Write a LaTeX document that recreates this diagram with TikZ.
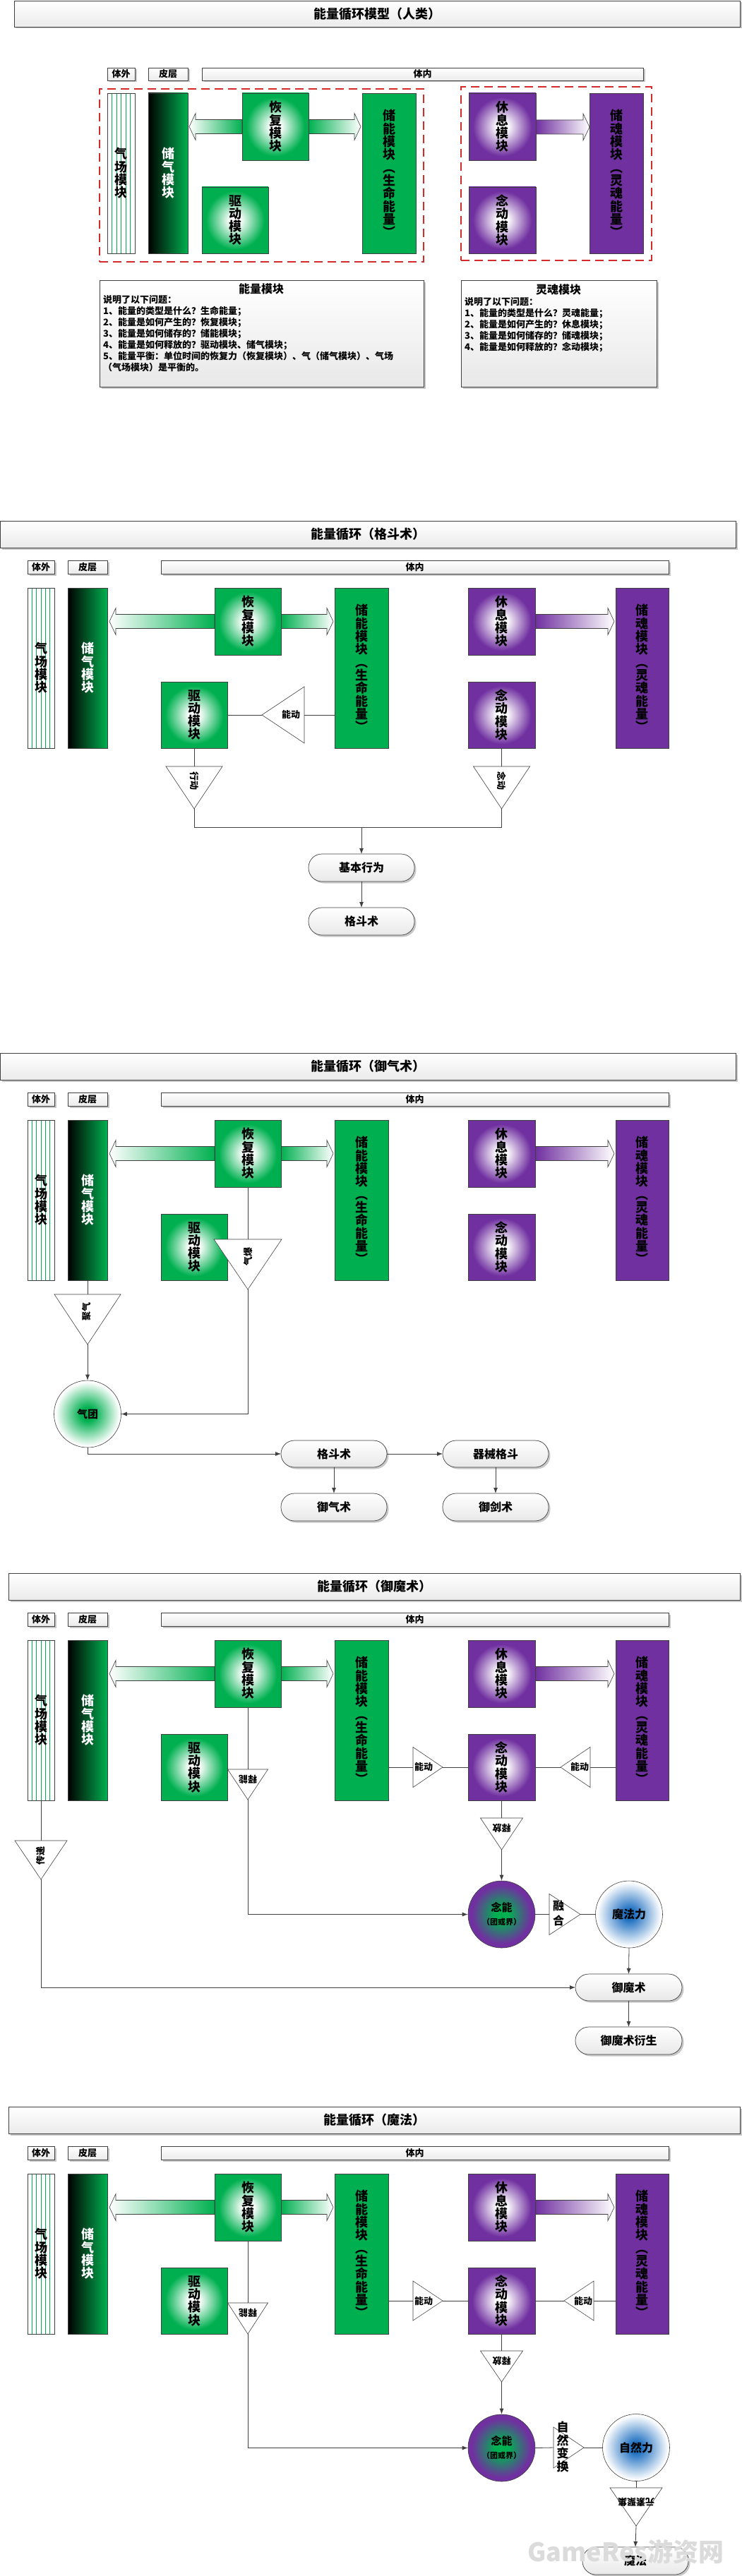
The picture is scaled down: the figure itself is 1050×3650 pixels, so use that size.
\documentclass[tikz,border=0pt]{standalone}
\usepackage{fontspec}
\setmainfont{Noto Sans CJK SC}
\usetikzlibrary{arrows.meta,shadows,calc}
\definecolor{gG}{HTML}{00B050}
\definecolor{pP}{HTML}{7030A0}
\definecolor{lineC}{HTML}{404040}
\definecolor{dashR}{HTML}{D42A2A}
\definecolor{bluC}{HTML}{1F70C1}
\pgfdeclareradialshading{greenbox}{\pgfpoint{0bp}{0bp}}{color(0bp)=(white); color(4bp)=(white); color(22bp)=(gG); color(50bp)=(gG)}
\pgfdeclareradialshading{purplebox}{\pgfpoint{0bp}{0bp}}{color(0bp)=(white); color(4bp)=(white); color(22bp)=(pP); color(50bp)=(pP)}
\pgfdeclareradialshading{qituan}{\pgfpoint{0bp}{0bp}}{color(0bp)=(gG); color(5bp)=(gG); color(24bp)=(white); color(50bp)=(white)}
\pgfdeclareradialshading{nianneng}{\pgfpoint{0bp}{0bp}}{color(0bp)=(gG); color(5bp)=(gG); color(22bp)=(pP); color(50bp)=(pP)}
\pgfdeclareradialshading{bluefade}{\pgfpoint{0bp}{0bp}}{color(0bp)=(bluC); color(4bp)=(bluC); color(24bp)=(white); color(50bp)=(white)}
\tikzset{
  mybd/.style={draw=lineC, line width=0.7pt},
  myshad/.style={drop shadow={shadow xshift=2.5pt, shadow yshift=-2.5pt, opacity=0.22, fill=black}},
  titlebox/.style={mybd, myshad, top color=white, bottom color=black!8, font=\fontsize{18}{20}\selectfont\bfseries},
  labbox/.style={mybd, myshad, top color=white, bottom color=black!8, font=\fontsize{13}{15}\selectfont\bfseries},
  modtext/.style={align=center, font=\fontsize{18}{18.3}\selectfont\bfseries},
  qcbox/.style={mybd, fill=white, modtext, path picture={\foreach \i in {1,...,5}{\draw[gG, line width=0.5pt] ($(path picture bounding box.north west)!\i/6!(path picture bounding box.north east)$) -- ($(path picture bounding box.south west)!\i/6!(path picture bounding box.south east)$);}}},
  cqbox/.style={mybd, left color=black, right color=gG, modtext, text=white},
  gbox/.style={mybd, shade, shading=greenbox, modtext},
  gsolid/.style={mybd, fill=gG, modtext},
  pbox/.style={mybd, shade, shading=purplebox, modtext},
  psolid/.style={mybd, fill=pP, modtext},
  dashbox/.style={draw=dashR, line width=2.2pt, dash pattern=on 12pt off 7pt},
  notebox/.style={mybd, myshad, top color=white, bottom color=black!9},
  pill/.style={mybd, myshad, rounded corners=19pt, top color=white, bottom color=black!9, font=\fontsize{16}{18}\selectfont\bfseries},
  circ/.style={circle, draw=lineC, line width=0.6pt, minimum size=95pt, inner sep=0pt, align=center, font=\fontsize{16}{18}\selectfont\bfseries},
  tri/.style={draw=lineC, line width=0.6pt, fill=white},
  conn/.style={draw=lineC, line width=0.8pt},
  arr/.style={conn, -{Latex[length=8pt,width=6pt]}},
  tlab/.style={font=\fontsize{13}{14}\selectfont\bfseries, inner sep=0pt},
}
% box node from corners
\newcommand\bx[7][]{%
  \node[inner sep=0pt, outer sep=0pt, #1, minimum width={(#5)-(#3)}, minimum height={(#6)-(#4)}] (#2) at ({((#3)+(#5))/2},{((#4)+(#6))/2}) {#7};}
% horizontal block arrow: from x, tip x, center y, left colour, right colour
\newcommand\harrow[5]{%
  \pgfmathsetmacro\hb{(#2>#1) ? (#2-9) : (#2+9)}%
  \path[draw=lineC, line width=0.6pt, left color=#4, right color=#5] (#1,{#3-10}) -- (\hb,{#3-10}) -- (\hb,{#3-19}) -- (#2,#3) -- (\hb,{#3+19}) -- (\hb,{#3+10}) -- (#1,{#3+10}) -- cycle;}
% downward triangle: name, centre x, top y, tip y, half width
\newcommand\tridown[5]{%
  \draw[tri] ({#2-#5},#3) -- ({#2+#5},#3) -- (#2,#4) -- cycle;
  \coordinate (#1-t) at (#2,#3);
  \coordinate (#1-b) at (#2,#4);}
% horizontal triangle: name, base x, tip x, centre y, half height
\newcommand\trih[5]{%
  \draw[tri] (#2,{#4-#5}) -- (#2,{#4+#5}) -- (#3,#4) -- cycle;
  \coordinate (#1-in) at (#2,#4);
  \coordinate (#1-out) at (#3,#4);}
% common row of modules: prefix, module top, title x1, title x2, title
\newcommand\secrow[5]{%
  \bx[titlebox]{#1-title}{#3}{#2-95}{#4}{#2-57}{#5}
  \bx[labbox]{#1-lw}{39}{#2-39}{77}{#2-20}{体外}
  \bx[labbox]{#1-lp}{96}{#2-39}{152}{#2-20}{皮层}
  \bx[labbox]{#1-ln}{228}{#2-39}{947}{#2-20}{体内}
  \harrow{304}{155}{#2+47.5}{white}{gG}
  \harrow{398}{472}{#2+47.5}{gG}{white}
  \harrow{758}{870}{#2+47.5}{pP}{white}
  \bx[qcbox]{#1-qc}{39}{#2}{77}{#2+227}{气\\场\\模\\块}
  \bx[cqbox]{#1-cq}{96}{#2}{152}{#2+227}{储\\气\\模\\块}
  \bx[gbox]{#1-hf}{304}{#2}{398}{#2+95}{恢\\复\\模\\块}
  \bx[gbox]{#1-qd}{228}{#2+133}{322}{#2+227}{驱\\动\\模\\块}
  \bx[gsolid]{#1-cn}{474}{#2}{550}{#2+227}{储\\能\\模\\块\\︵\\生\\命\\能\\量\\︶}
  \bx[pbox]{#1-xx}{663}{#2}{758}{#2+95}{休\\息\\模\\块}
  \bx[pbox]{#1-nd}{663}{#2+133}{758}{#2+227}{念\\动\\模\\块}
  \bx[psolid]{#1-sh}{872}{#2}{947}{#2+227}{储\\魂\\模\\块\\︵\\灵\\魂\\能\\量\\︶}}
\begin{document}
\begin{tikzpicture}[x=1pt,y=-1pt]
\useasboundingbox[fill=white] (0,0) rectangle (1050,3650);
%================ section 1 =================
\bx[titlebox]{A-title}{20}{1}{1048}{38}{能量循环模型（人类）}
\bx[labbox]{A-lw}{152}{96}{191}{114}{体外}
\bx[labbox]{A-lp}{210}{96}{266}{114}{皮层}
\bx[labbox]{A-ln}{286}{96}{911}{114}{体内}
\bx[dashbox]{A-dl}{141}{126}{600}{371}{}
\bx[dashbox]{A-dr}{653}{123}{923}{369}{}
\harrow{343}{268}{179.5}{white}{gG}
\harrow{437}{511}{179.5}{gG}{white}
\harrow{759}{835}{180}{pP}{white}
\bx[qcbox]{A-qc}{152}{132}{191}{359}{气\\场\\模\\块}
\bx[cqbox]{A-cq}{210}{132}{266}{359}{储\\气\\模\\块}
\bx[gbox]{A-hf}{343}{132}{437}{227}{恢\\复\\模\\块}
\bx[gbox]{A-qd}{286}{265}{380}{359}{驱\\动\\模\\块}
\bx[gsolid]{A-cn}{513}{132}{589}{359}{储\\能\\模\\块\\︵\\生\\命\\能\\量\\︶}
\bx[pbox]{A-xx}{664}{132}{759}{227}{休\\息\\模\\块}
\bx[pbox]{A-nd}{664}{265}{759}{359}{念\\动\\模\\块}
\bx[psolid]{A-sh}{835}{132}{911}{359}{储\\魂\\模\\块\\︵\\灵\\魂\\能\\量\\︶}
\bx[notebox]{A-nl}{141}{397}{600}{548}{}
\bx[notebox]{A-nr}{653}{397}{930}{548}{}
\node[font=\fontsize{16}{18}\selectfont\bfseries] (A-nlt) at (370,409) {能量模块};
\node[font=\fontsize{16}{18}\selectfont\bfseries] (A-nrt) at (791,410) {灵魂模块};
\node[anchor=north west, align=left, inner sep=0pt, font=\fontsize{13}{16}\selectfont\bfseries] (A-nlc) at (146,418) {说明了以下问题：\\1、能量的类型是什么？生命能量；\\2、能量是如何产生的？恢复模块；\\3、能量是如何储存的？储能模块；\\4、能量是如何释放的？驱动模块、储气模块；\\5、能量平衡：单位时间的恢复力（恢复模块）、气（储气模块）、气场\\（气场模块）是平衡的。};
\node[anchor=north west, align=left, inner sep=0pt, font=\fontsize{13}{16}\selectfont\bfseries] (A-nrc) at (658,421) {说明了以下问题：\\1、能量的类型是什么？灵魂能量；\\2、能量是如何产生的？休息模块；\\3、能量是如何储存的？储魂模块；\\4、能量是如何释放的？念动模块；};
%================ section 2 =================
\secrow{B}{833}{0}{1042}{能量循环（格斗术）}
\trih{B-nd1}{431}{371}{1013}{40}
\node[tlab] (B-nd1l) at (412,1013) {能动};
\draw[conn] (B-qd.east) -- (B-nd1-out);
\draw[conn] (B-nd1-in) -- (B-nd1-in -| B-cn.west);
\tridown{B-xd}{275}{1086}{1146}{40}
\node[tlab, rotate=-90] (B-xdl) at (275,1106) {行动};
\tridown{B-nt}{710.5}{1086}{1146}{40}
\node[tlab, rotate=-90] (B-ntl) at (710.5,1106) {念动};
\draw[conn] (B-qd.south) -- (B-xd-t);
\draw[conn] (B-nd.south) -- (B-nt-t);
\bx[pill]{B-jb}{437}{1210}{587}{1249}{基本行为}
\bx[pill]{B-gd}{437}{1286}{587}{1325}{格斗术}
\coordinate (B-j) at (512,1172);
\draw[conn] (B-xd-b) |- (B-j) -| (B-nt-b);
\draw[arr] (B-j) -- (B-jb.north);
\draw[arr] (B-jb.south) -- (B-gd.north);
%================ section 3 =================
\secrow{C}{1587}{0}{1042}{能量循环（御气术）}
\tridown{C-t1}{351}{1756}{1827}{48}
\node[tlab, rotate=90] (C-t1l) at (352,1780) {气爆};
\tridown{C-t2}{124}{1834}{1905}{47}
\node[tlab, rotate=90] (C-t2l) at (123,1858) {聚气};
\draw[conn] (C-hf.south) -- (C-t1-t);
\draw[conn] (C-cq.south) -- (C-t2-t);
\node[circ, shade, shading=qituan, font=\fontsize{15}{17}\selectfont\bfseries] (C-qt) at (124,2003.5) {气团};
\draw[arr] (C-t2-b) -- (C-qt.north);
\draw[arr] (C-t1-b) |- (C-qt.east);
\bx[pill]{C-gd}{398}{2041}{548}{2079}{格斗术}
\bx[pill]{C-qx}{627}{2041}{777}{2079}{器械格斗}
\bx[pill]{C-yq}{398}{2116}{548}{2155}{御气术}
\bx[pill]{C-yj}{627}{2116}{777}{2155}{御剑术}
\draw[arr] (C-qt.south) |- (C-gd.west);
\draw[arr] (C-gd.east) -- (C-qx.west);
\draw[arr] (C-gd.south) -- (C-yq.north);
\draw[arr] (C-qx.south) -- (C-yj.north);
%================ section 4 =================
\secrow{D}{2324}{12}{1048}{能量循环（御魔术）}
\tridown{D-t1}{351}{2507}{2550}{28.5}
\node[tlab, rotate=180] (D-t1l) at (351,2521) {释能};
\draw[conn] (D-hf.south) -- (D-t1-t);
\trih{D-nd1}{585}{627}{2504}{28.5}
\node[tlab] (D-nd1l) at (600,2504) {能动};
\draw[conn] (D-nd1-in -| D-cn.east) -- (D-nd1-in);
\draw[conn] (D-nd1-out) -- (D-nd.west);
\trih{D-nd2}{836}{794}{2504}{28.5}
\node[tlab] (D-nd2l) at (821,2504) {能动};
\draw[conn] (D-nd2-in -| D-sh.west) -- (D-nd2-in);
\draw[conn] (D-nd2-out) -- (D-nd.east);
\tridown{D-t3}{710.5}{2576}{2621}{30}
\node[tlab, rotate=180] (D-t3l) at (710.5,2590) {释放};
\draw[conn] (D-nd.south) -- (D-t3-t);
\node[circ, shade, shading=nianneng, font=\fontsize{15}{19}\selectfont\bfseries] (D-nn) at (710.5,2712.5) {念能\\{\fontsize{11}{13}\selectfont（团或界）}};
\draw[arr] (D-t3-b) -- (D-nn.north);
\draw[arr] (D-t1-b) |- (D-nn.west);
\trih{D-rh}{778}{822}{2712.5}{29}
\node[align=center, inner sep=0pt, font=\fontsize{16}{21}\selectfont\bfseries] (D-rhl) at (791,2711) {融\\合};
\draw[conn] (D-nn.east) -- (D-rh-in);
\node[circ, shade, shading=bluefade] (D-mf) at (891,2712.5) {魔法力};
\draw[conn] (D-rh-out) -- (D-mf.west);
\bx[pill]{D-ym}{815}{2797}{966}{2835}{御魔术}
\bx[pill]{D-ys}{815}{2872}{966}{2911}{御魔术衍生}
\draw[arr] (D-mf.south) -- (D-ym.north);
\draw[arr] (D-ym.south) -- (D-ys.north);
\tridown{D-t4}{58}{2608}{2663}{37}
\node[tlab, rotate=90] (D-t4l) at (58,2629) {传递};
\draw[conn] (D-qc.south) -- (D-t4-t);
\draw[arr] (D-t4-b) |- (D-ym.west);
%================ section 5 =================
\secrow{E}{3080}{12}{1048}{能量循环（魔法）}
\tridown{E-t1}{351}{3263}{3307}{28.5}
\node[tlab, rotate=180] (E-t1l) at (351,3277) {释能};
\draw[conn] (E-hf.south) -- (E-t1-t);
\trih{E-nd1}{585}{627}{3260}{28}
\node[tlab] (E-nd1l) at (600,3260) {能动};
\draw[conn] (E-nd1-in -| E-cn.east) -- (E-nd1-in);
\draw[conn] (E-nd1-out) -- (E-nd.west);
\trih{E-nd2}{841}{799}{3260}{28}
\node[tlab] (E-nd2l) at (826,3260) {能动};
\draw[conn] (E-nd2-in -| E-sh.west) -- (E-nd2-in);
\draw[conn] (E-nd2-out) -- (E-nd.east);
\tridown{E-t3}{710.5}{3331}{3375}{30}
\node[tlab, rotate=180] (E-t3l) at (710.5,3345) {释放};
\draw[conn] (E-nd.south) -- (E-t3-t);
\node[circ, shade, shading=nianneng, font=\fontsize{15}{19}\selectfont\bfseries] (E-nn) at (710.5,3468.5) {念能\\{\fontsize{11}{13}\selectfont（团或界）}};
\draw[arr] (E-t3-b) -- (E-nn.north);
\draw[arr] (E-t1-b) |- (E-nn.west);
\trih{E-zr}{784}{827}{3468}{29}
\node[align=center, inner sep=0pt, font=\fontsize{17}{18.5}\selectfont\bfseries] (E-zrl) at (797,3467) {自\\然\\变\\换};
\draw[conn] (E-nn.east) -- (E-zr-in);
\node[circ, shade, shading=bluefade] (E-zl) at (901,3468) {自然力};
\draw[conn] (E-zr-out) -- (E-zl.west);
\tridown{E-t5}{901}{3525}{3579}{37}
\node[tlab, rotate=180] (E-t5l) at (901,3545) {元素聚集};
\draw[conn] (E-zl.south) -- (E-t5-t);
\bx[pill]{E-mf}{825}{3609}{975}{3648}{魔法}
\draw[arr] (E-t5-b) -- (E-mf.north);
% watermark
\node[text=black!14, font=\fontsize{36}{38}\selectfont\bfseries] (wm) at (886,3616) {GameRes游资网};
\end{tikzpicture}
\end{document}
